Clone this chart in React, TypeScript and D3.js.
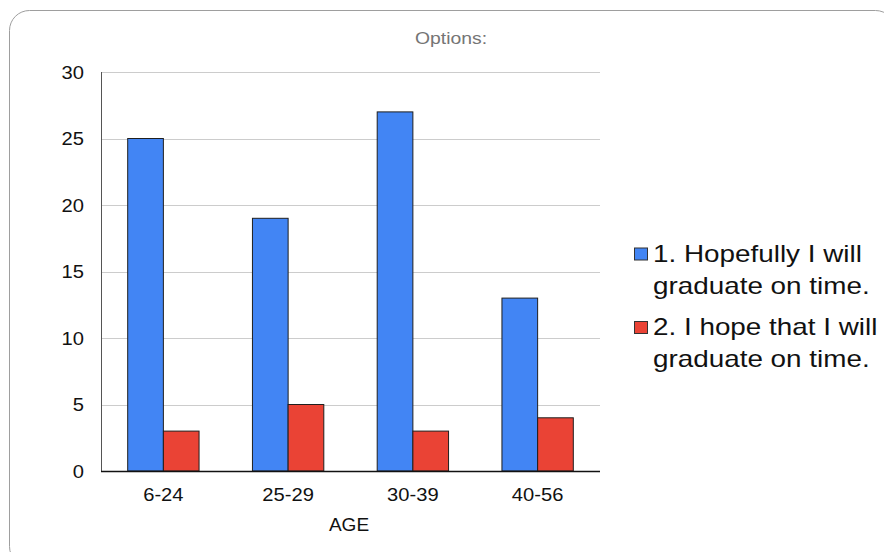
import React from "react";
import * as d3 from "d3";

// Age groups on the x axis
const categories: string[] = ["6-24", "25-29", "30-39", "40-56"];
// Response counts per age group
const hopefullyValues: number[] = [25, 19, 27, 13];
const hopeThatValues: number[] = [3, 5, 3, 4];
const seriesNames: string[][] = [
  ["1. Hopefully I will", "graduate on time."],
  ["2. I hope that I will", "graduate on time."],
];
const seriesColors: string[] = ["#4285F4", "#EA4335"];
const yTicks: number[] = [0, 5, 10, 15, 20, 25, 30];

const W = 884;
const H = 552;
const FONT = "'Liberation Sans', Arial, sans-serif";

export default function App() {
  const plot = { left: 101, right: 600, top: 72, bottom: 471 };

  const x0 = d3
    .scaleBand<string>()
    .domain(categories)
    .range([plot.left, plot.right])
    .paddingInner(0.428)
    .paddingOuter(0.214);
  const keys = ["a", "b"];
  const x1 = d3.scaleBand<string>().domain(keys).range([0, x0.bandwidth()]);
  const y = d3.scaleLinear().domain([0, 30]).range([plot.bottom, plot.top]);

  const series = [hopefullyValues, hopeThatValues];

  // text drawn slightly widened horizontally
  const stretchedText = (
    tx: number,
    ty: number,
    txt: string,
    size: number,
    anchor: "start" | "middle" | "end",
    fill = "#111",
    sx = 1.12
  ) => (
    <text
      key={`${txt}-${tx}-${ty}`}
      transform={`translate(${tx},${ty}) scale(${sx},1)`}
      fontSize={size}
      fontFamily={FONT}
      textAnchor={anchor}
      fill={fill}
    >
      {txt}
    </text>
  );

  return (
    <svg
      width={W}
      height={H}
      style={{ position: "absolute", left: 0, top: 0, background: "#fff" }}
    >
      <rect
        x={9.5}
        y={10.5}
        width={886}
        height={556}
        rx={20}
        ry={20}
        fill="#fff"
        stroke="#9e9e9e"
        strokeWidth={1}
      />

      {stretchedText(451, 44, "Options:", 17, "middle", "#757575", 1.14)}

      {/* horizontal gridlines */}
      {yTicks
        .filter((t) => t > 0)
        .map((t) => (
          <line
            key={`g${t}`}
            x1={plot.left}
            x2={plot.right}
            y1={Math.round(y(t)) + 0.5}
            y2={Math.round(y(t)) + 0.5}
            stroke="#cccccc"
            strokeWidth={1}
          />
        ))}

      {/* y tick labels */}
      {yTicks.map((t) => stretchedText(84, y(t) + 6.5, String(t), 18, "end"))}

      {/* bars */}
      {categories.map((c, i) => (
        <g key={c} transform={`translate(${x0(c)},0)`}>
          {series.map((vals, s) => (
            <rect
              key={s}
              x={x1(keys[s])}
              y={y(vals[i])}
              width={x1.bandwidth()}
              height={y(0) - y(vals[i])}
              fill={seriesColors[s]}
              stroke="#1f1f1f"
              strokeWidth={1}
            />
          ))}
        </g>
      ))}

      {/* axes */}
      <line
        x1={plot.left + 0.5}
        x2={plot.left + 0.5}
        y1={plot.top}
        y2={plot.bottom}
        stroke="#555"
        strokeWidth={1}
      />
      <line
        x1={plot.left}
        x2={plot.right}
        y1={plot.bottom + 0.5}
        y2={plot.bottom + 0.5}
        stroke="#111"
        strokeWidth={1.3}
      />

      {/* x tick labels */}
      {categories.map((c) =>
        stretchedText((x0(c) ?? 0) + x0.bandwidth() / 2, 501, c, 18, "middle")
      )}
      {stretchedText(349, 531, "AGE", 18, "middle", "#111", 1.06)}

      {/* legend */}
      {seriesNames.map((lines, s) => {
        const top = s === 0 ? 248 : 321.5;
        const base = s === 0 ? 262 : 335;
        return (
          <g key={`leg${s}`}>
            <rect
              x={634.5}
              y={top}
              width={13}
              height={12}
              fill={seriesColors[s]}
              stroke="#333"
              strokeWidth={1}
            />
            {lines.map((ln, k) =>
              stretchedText(653, base + k * 32, ln, 24, "start", "#111", 1.16)
            )}
          </g>
        );
      })}
    </svg>
  );
}
